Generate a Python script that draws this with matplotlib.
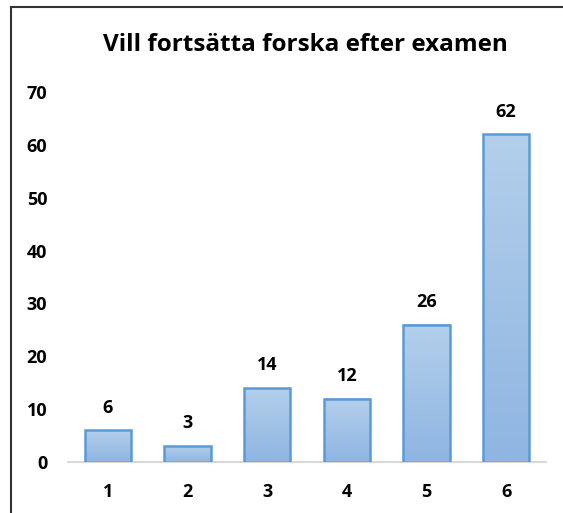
import matplotlib
matplotlib.use("Agg")
import matplotlib.pyplot as plt
import numpy as np
from matplotlib.colors import LinearSegmentedColormap
from matplotlib.lines import Line2D

categories = ["1", "2", "3", "4", "5", "6"]
values = [6, 3, 14, 12, 26, 62]
y_ticks = [0, 10, 20, 30, 40, 50, 60, 70]
title = "Vill fortsätta forska efter examen"

plt.rcParams['font.family'] = ['Open Sans', 'DejaVu Sans']
plt.rcParams['font.weight'] = 'bold'

fig = plt.figure(figsize=(5.63, 5.13), dpi=100)
ax = fig.add_axes([68 / 563, 51 / 513, 478 / 563, 370 / 513])

x = np.arange(len(categories))
width = 0.58
grad = LinearSegmentedColormap.from_list('bar_grad', ['#8fb5e2', '#b3cfeb'])
g = np.linspace(0, 1, 256).reshape(-1, 1)

bars = ax.bar(x, values, width, facecolor='none', edgecolor='#5b9bd5', linewidth=1.8, zorder=3)
for b, v in zip(bars, values):
    ax.imshow(g, cmap=grad, origin='lower', aspect='auto', zorder=2,
              extent=[b.get_x(), b.get_x() + b.get_width(), 0, v])
    ax.text(b.get_x() + b.get_width() / 2, v + 2.6, str(v), ha='center', va='bottom',
            fontsize=13, fontweight='bold')

ax.set_xlim(-0.5, len(categories) - 0.5)
ax.set_ylim(0, 70)
ax.set_yticks(y_ticks)
ax.set_xticks(x)
ax.set_xticklabels(categories)
for s in ['top', 'right', 'left']:
    ax.spines[s].set_visible(False)
ax.spines['bottom'].set_color('#d9d9d9')
ax.spines['bottom'].set_linewidth(1.5)
ax.tick_params(axis='both', length=0, labelsize=13)
ax.tick_params(axis='y', pad=15)
ax.tick_params(axis='x', pad=15)
for lab in ax.get_xticklabels() + ax.get_yticklabels():
    lab.set_fontweight('bold')

fig.text(305 / 563, 1 - 45 / 513, title, ha='center', va='center', fontsize=17.5, fontweight='bold')

# chart frame (only top and left edges visible in the crop)
fig.add_artist(Line2D([11 / 563, 11 / 563], [0, 1 - 7 / 513], transform=fig.transFigure,
                      color='#333333', linewidth=1.5))
fig.add_artist(Line2D([11 / 563, 1], [1 - 7 / 513, 1 - 7 / 513], transform=fig.transFigure,
                      color='#333333', linewidth=1.5))

plt.savefig('out.png', dpi=100)
